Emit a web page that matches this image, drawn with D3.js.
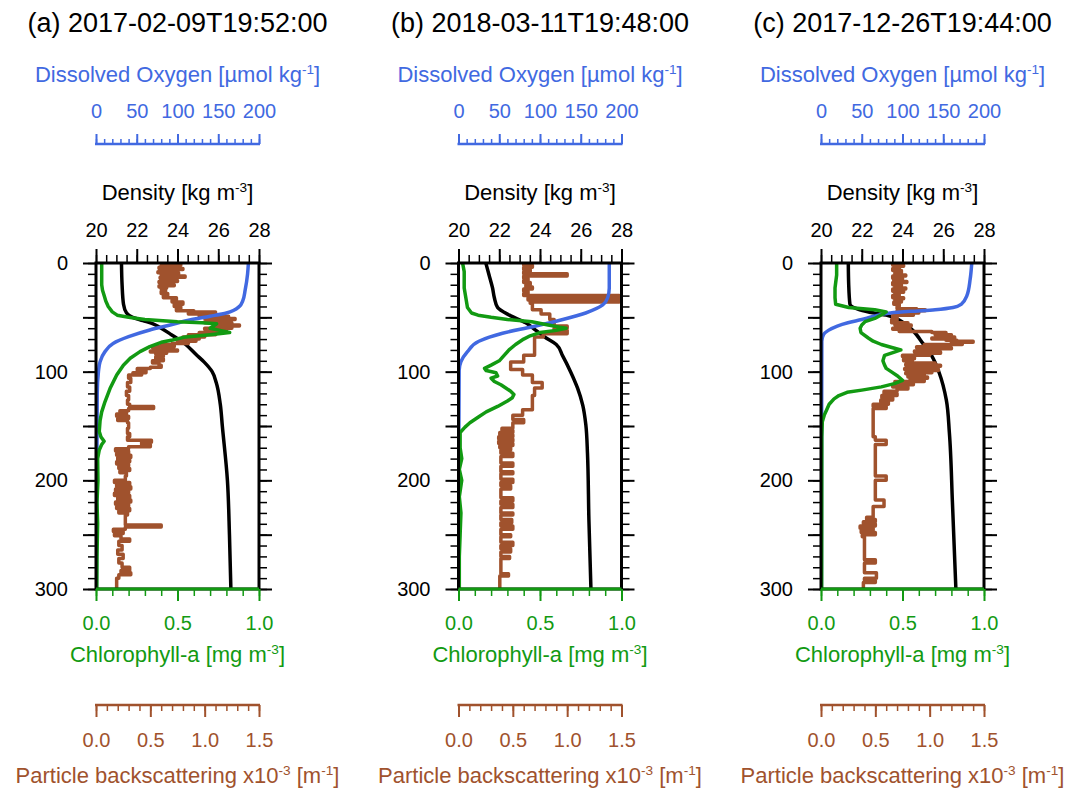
<!DOCTYPE html>
<html>
<head>
<meta charset="utf-8">
<script src="https://cdn.jsdelivr.net/npm/d3@7"></script>
<style>
  body { margin: 0; background: #fff; }
  svg { display: block; font-family: "Liberation Sans", Arial, sans-serif; }
</style>
</head>
<body>
<svg id="chart" width="1073" height="791"></svg>
<script>
// ── Data: profiles as [depth (m), value] ───────────────────────────
const panelTitles = ["(a) 2017-02-09T19:52:00", "(b) 2018-03-11T19:48:00", "(c) 2017-12-26T19:44:00"];

const depthTicks   = [0, 100, 200, 300];
const densityTicks = [20, 22, 24, 26, 28];
const oxygenTicks  = [0, 50, 100, 150, 200];
const chlTicks     = [0, 0.5, 1.0];
const bbpTicks     = [0, 0.5, 1.0, 1.5];

const densityA = [[0,21.25],[20,21.28],[38,21.35],[46,21.5],[50,21.8],[53,22.3],[56,22.8],[60,23.2],[66,23.7],[75,24.4],[84,24.9],[91,25.3],[100,25.7],[110,25.9],[130,26.1],[150,26.2],[200,26.45],[250,26.55],[300,26.62]];
const densityB = [[0,21.34],[11,21.5],[23,21.67],[32,21.76],[41,21.92],[48,22.5],[55,23.3],[62,23.8],[69,24.3],[75,24.8],[85,25.1],[100,25.5],[115,25.84],[131,26.1],[149,26.25],[175,26.33],[236,26.4],[300,26.5]];
const densityC = [[0,21.34],[20,21.36],[38,21.42],[43,21.9],[46,22.6],[48,23.2],[52,23.8],[57,24.2],[62,24.5],[74,25.0],[86,25.45],[101,25.8],[126,26.15],[156,26.3],[220,26.45],[300,26.62]];

const oxygenA = [[0,187],[10,186],[25,183],[35,180],[40,176],[46,160],[49,140],[52.5,115],[57,91],[61.6,66],[67.8,40],[74,21],[81.6,11],[90.8,5],[100,3],[120,1.5],[200,1],[300,0.5]];
const oxygenB = [[0,185],[23,185],[32,183],[38.6,177],[46,156],[52,128],[58.6,91],[64.6,54],[72,25],[81.6,11],[90.8,3],[99,0.8],[150,0.5],[300,0.3]];
const oxygenC = [[0,185],[15,183],[30,179],[38,172],[41,162],[43,140],[44.5,110],[46,85],[49,65],[52,50],[55,33],[58,20],[62,9],[66,3],[72,1],[300,0.5]];

const chlA = [[0,0.035],[10,0.035],[20,0.035],[25,0.04],[30,0.05],[35,0.06],[40,0.075],[45,0.1],[48,0.13],[50,0.2],[52,0.3],[54,0.5],[55,0.65],[56,0.74],[58,0.72],[60,0.7],[62,0.76],[64,0.82],[66,0.7],[68,0.55],[70.8,0.47],[73,0.4],[77,0.33],[81.6,0.27],[87.7,0.21],[94,0.168],[103,0.127],[115.5,0.086],[127.7,0.055],[137,0.035],[145,0.025],[155,0.02],[160,0.03],[164,0.05],[167,0.035],[172,0.02],[180,0.01],[200,0.012],[220,0.006],[240,0.01],[270,0.006],[300,0.005]];
const chlB = [[0,0.025],[8,0.035],[23,0.035],[32,0.045],[41,0.055],[46,0.08],[48,0.12],[50,0.2],[52,0.3],[54,0.45],[57,0.55],[59,0.62],[60,0.66],[62,0.6],[64,0.5],[67,0.44],[70,0.4],[75,0.35],[80,0.31],[85,0.28],[90,0.25],[94,0.2],[97,0.16],[99,0.17],[101,0.23],[104,0.24],[106,0.2],[109,0.22],[112,0.26],[115,0.29],[118,0.32],[121,0.34],[124,0.33],[127,0.3],[132,0.24],[137,0.17],[142,0.12],[147,0.07],[151,0.04],[156,0.01],[170,0.01],[180,0.02],[190,0.005],[200,0.02],[215,0.005],[230,0.015],[250,0.01],[270,0.005],[300,0.005]];
const chlC = [[0,0.096],[11,0.096],[23,0.086],[32,0.086],[38,0.09],[41,0.17],[43,0.33],[45,0.4],[47,0.38],[51,0.33],[54,0.27],[57,0.25],[60,0.24],[64,0.245],[69,0.29],[72,0.32],[75,0.37],[78,0.44],[80,0.49],[82,0.45],[85,0.39],[90,0.38],[94,0.39],[97,0.4],[100,0.43],[104,0.47],[108,0.5],[111,0.45],[114,0.37],[117,0.25],[119,0.16],[122,0.11],[125,0.08],[130,0.05],[135,0.035],[140,0.02],[146,0.008],[160,0.005],[300,0.004]];

// particle backscattering (x10^-3 m^-1), drawn as steps: value v from depth d on
const bbpA = [[0,0.62],[1,0.78],[2,0.6],[3,0.74],[4,0.58],[5,0.8],[6,0.63],[7,0.71],[8,0.57],[9,0.76],[10,0.6],[11,0.68],[12,0.82],[13,0.59],[14,0.7],[15,0.6],[16,0.75],[17,0.58],[18,0.66],[19,0.62],[20,0.72],[21,0.58],[22,0.65],[23,0.6],
  [24,0.64],[26,0.6],[28,0.66],[30,0.62],[32,0.74],[34,0.7],[36,0.8],[38,0.72],[40,0.78],[42,0.74],[44,0.9],[45,1.1],[46,0.85],[47,1.05],
  [48,0.95],[49,1.22],[50,1.0],[51,1.28],[52,1.05],[53,1.15],[54,1.0],[55,1.25],[56,1.1],[57,1.32],[58,1.12],[59,1.25],[60,1.0],[61,1.2],[62,1.05],[63,1.15],[64,0.95],[65,1.1],
  [66,0.85],[67,1.0],[68,0.8],[69,0.95],[70,0.78],[71,0.92],[72,0.75],[73,0.85],[74,0.7],[75,0.6],[76,0.72],[77,0.52],[78,0.68],[79,0.55],[80,0.75],[81,0.5],[82,0.65],[83,0.55],[84,0.62],
  [86,0.55],[88,0.62],[90,0.52],[92,0.58],[94,0.6],[96,0.5],[97,0.38],[99,0.46],[101,0.34],[102,0.42],[103,0.3],[106,0.32],[110,0.29],[114,0.31],[118,0.28],[122,0.3],[126,0.29],
  [130,0.31],[132,0.53],[134,0.3],[136,0.22],[137,0.28],[139,0.19],[141,0.3],[143,0.2],[145,0.29],[147,0.3],[152,0.29],[157,0.31],[160,0.29],[163,0.51],[165,0.42],[167,0.5],[169,0.3],
  [171,0.18],[173,0.3],[175,0.19],[177,0.32],[179,0.2],[181,0.31],[183,0.19],[185,0.3],[187,0.21],[189,0.31],[191,0.22],[193,0.28],[196,0.27],
  [200,0.17],[202,0.31],[204,0.19],[206,0.32],[208,0.18],[210,0.3],[212,0.17],[214,0.31],[216,0.2],[218,0.32],[220,0.18],[222,0.3],[224,0.19],[226,0.31],[228,0.21],[230,0.29],[232,0.27],
  [235,0.27],[238,0.27],[241,0.6],[243,0.27],[245,0.16],[247,0.25],[249,0.17],[251,0.23],[254,0.31],[256,0.21],[260,0.24],[264,0.2],[268,0.25],[272,0.21],[276,0.24],
  [280,0.31],[283,0.23],[285,0.32],[287,0.21],[290,0.19],[300,0.19]];
const bbpB = [[0,0.6],[2,0.68],[4,0.6],[6,0.66],[8,0.6],[10,1.0],[12,0.6],[14,0.64],[16,0.6],[18,0.66],[20,0.62],[22,0.68],[24,0.6],[26,0.64],[28,0.6],[30,1.48],[32,0.64],[34,1.48],[36,0.66],
  [37,0.68],[43,0.76],[47,0.84],[52,0.88],[58,1.0],[60,0.88],[62,1.0],[65,0.78],[68,0.7],[85,0.6],[91,0.48],[98,0.59],[103,0.68],[110,0.77],[115,0.7],[122,0.68],[135,0.59],[140,0.5],
  [144,0.6],[147,0.5],[152,0.4],[154,0.5],[156,0.38],[158,0.5],[160,0.37],[162,0.5],[164,0.37],[166,0.5],[168,0.38],[170,0.48],[172,0.39],
  [175,0.5],[178,0.39],[184,0.5],[187,0.39],[192,0.5],[194,0.39],[199,0.5],[202,0.39],[205,0.48],[208,0.39],[216,0.5],[219,0.39],[222,0.5],[225,0.39],[230,0.5],[232,0.39],
  [236,0.49],[239,0.39],[242,0.5],[245,0.39],[250,0.48],[252,0.39],[257,0.5],[260,0.39],[263,0.48],[266,0.39],[270,0.47],[272,0.39],[280,0.39],[286,0.46],[288,0.38],[300,0.38]];
const bbpC = [[0,0.72],[1,0.66],[2,0.76],[3,0.68],[4,0.72],[5,0.66],[7,0.74],[9,0.68],[11,0.78],[12,0.66],[14,0.75],[15,0.67],[17,0.79],[18,0.66],[20,0.74],[21,0.68],[23,0.78],[24,0.66],[26,0.76],[27,0.68],[29,0.72],[30,0.66],[32,0.76],[33,0.68],[35,0.74],[36,0.67],[38,0.72],
  [40,0.7],[42,0.88],[43,0.96],[44,0.7],[45,0.9],[46,0.66],[47,0.85],[48,0.66],[50,0.7],[52,0.65],[53,0.7],[54,0.65],[55,0.8],[56,0.68],[57,0.83],[58,0.7],[59,0.78],[60,0.66],[61,0.82],[62,0.72],
  [63,1.02],[64,1.15],[65,1.05],[66,1.2],[67,1.08],[68,1.23],[69,1.02],[70,1.15],[71,1.25],[72,1.4],[73,1.2],[74,1.3],
  [75,0.95],[76,1.15],[77,0.88],[78,1.2],[79,0.9],[80,1.05],[81,0.86],[82,1.1],[83,0.9],[84,1.0],[85,0.75],[86,0.86],[88,0.76],[90,0.84],
  [91,0.8],[92,1.05],[93,0.78],[94,1.1],[95,0.82],[96,1.0],[97,0.77],[98,1.08],[99,0.8],[100,1.02],[101,0.78],[102,0.95],[103,0.8],[105,0.98],[106,0.82],[108,0.95],
  [109,0.68],[110,0.85],[112,0.66],[114,0.8],[116,0.7],[118,0.58],[120,0.7],[122,0.56],[124,0.66],[126,0.55],[128,0.62],[130,0.48],[132,0.6],
  [134,0.48],[150,0.48],[160,0.5],[163,0.6],[167,0.5],[196,0.6],[200,0.5],[218,0.58],[224,0.48],[234,0.42],[236,0.5],[238,0.39],[240,0.5],[242,0.36],[244,0.48],[246,0.37],[248,0.5],[250,0.38],
  [252,0.4],[273,0.5],[276,0.4],[285,0.51],[290,0.4],[292,0.5],[294,0.39],[300,0.39]];

const panels = [
  { title: panelTitles[0], density: densityA, oxygen: oxygenA, chl: chlA, bbp: bbpA },
  { title: panelTitles[1], density: densityB, oxygen: oxygenB, chl: chlB, bbp: bbpB },
  { title: panelTitles[2], density: densityC, oxygen: oxygenC, chl: chlC, bbp: bbpC }
];

// ── Layout ──────────────────────────────────────────────────────────
const BLUE = "#4169e1", GREEN = "#129a12", BROWN = "#a0522d";
const panelLeft = [96, 458.5, 821], PW = 163;
const yTop = 263, yBot = 589;
const oxyY = 144, bbpY = 705;
const TICK_FS = 20, LABEL_FS = 22, TITLE_FS = 27;
const LW = 3.5;

const svg = d3.select("#chart");
const defs = svg.append("defs");

// draw an axis with separate minor + major tick groups
function drawAxis(orient, scale, pos, major, minor, majorLen, minorLen, pad, color, fmt) {
    const make = { top: d3.axisTop, bottom: d3.axisBottom, left: d3.axisLeft, right: d3.axisRight }[orient];
    const tr = (orient === "top" || orient === "bottom") ? `translate(0,${pos})` : `translate(${pos},0)`;
    const gMin = svg.append("g").attr("transform", tr)
        .call(make(scale).tickValues(minor).tickSize(minorLen).tickFormat(""));
    gMin.select(".domain").remove();
    gMin.selectAll("line").attr("stroke", color).attr("stroke-width", 1.5);
    const gMaj = svg.append("g").attr("transform", tr)
        .call(make(scale).tickValues(major).tickSize(majorLen).tickPadding(pad).tickFormat(fmt || ""));
    gMaj.select(".domain").remove();
    gMaj.attr("font-size", TICK_FS).attr("font-family", null);
    gMaj.selectAll("line").attr("stroke", color).attr("stroke-width", 2);
    gMaj.selectAll("text").attr("fill", color);
}

// centered label; parts starting with "^" are superscripts
function label(x, y, parts, color, size) {
    const t = svg.append("text").attr("x", x).attr("y", y)
        .attr("text-anchor", "middle").attr("fill", color).attr("font-size", size);
    let up = 0;
    parts.forEach(s => {
        const sup = s.startsWith("^");
        const shift = sup ? -size * 0.38 : 0;
        t.append("tspan").attr("dy", shift - up)
            .attr("font-size", sup ? size * 0.62 : size)
            .text(sup ? s.slice(1) : s);
        up = shift;
    });
}

const y = d3.scaleLinear([0, 300], [yTop, yBot]);

panels.forEach((p, i) => {
    const x0 = panelLeft[i], x1 = x0 + PW, cx = x0 + PW / 2;
    const xDen = d3.scaleLinear([20, 28], [x0, x1]);
    const xOxy = d3.scaleLinear([0, 200], [x0, x1]);
    const xChl = d3.scaleLinear([0, 1], [x0, x1]);
    const xBbp = d3.scaleLinear([0, 1.5], [x0, x1]);

    // clip
    defs.append("clipPath").attr("id", `clip${i}`)
        .append("rect").attr("x", x0).attr("y", yTop).attr("width", PW).attr("height", yBot - yTop);

    const g = svg.append("g").attr("clip-path", `url(#clip${i})`);
    const line = xs => d3.line().x(d => xs(d[1])).y(d => y(d[0]));

    g.append("path").datum(p.density).attr("d", line(xDen).curve(d3.curveMonotoneY))
        .attr("fill", "none").attr("stroke", "#000").attr("stroke-width", LW);
    g.append("path").datum(p.bbp).attr("d", line(xBbp).curve(d3.curveStepBefore))
        .attr("fill", "none").attr("stroke", BROWN).attr("stroke-width", LW).attr("stroke-linejoin", "round");
    g.append("path").datum(p.oxygen).attr("d", line(xOxy).curve(d3.curveMonotoneY))
        .attr("fill", "none").attr("stroke", BLUE).attr("stroke-width", LW);
    g.append("path").datum(p.chl).attr("d", line(xChl))
        .attr("fill", "none").attr("stroke", GREEN).attr("stroke-width", LW).attr("stroke-linejoin", "round");

    // frame
    svg.append("rect").attr("x", x0).attr("y", yTop).attr("width", PW).attr("height", yBot - yTop)
        .attr("fill", "none").attr("stroke", "#000").attr("stroke-width", 3);

    // depth axes
    drawAxis("left", y, x0, d3.range(0, 301, 50), d3.range(0, 301, 10), 13, 8, 15, "#000",
        d => depthTicks.includes(d) ? d : "");
    drawAxis("right", y, x1, d3.range(0, 301, 50), d3.range(0, 301, 10), 13, 8, 0, "#000", null);

    // density (top of frame)
    drawAxis("top", xDen, yTop, densityTicks, d3.range(20, 28.01, 0.5), 14, 8, 12, "#000", d3.format("d"));
    label(cx, 200, ["Density [kg m", "^-3", "]"], "#000", LABEL_FS);

    // oxygen (floating, above)
    svg.append("line").attr("x1", x0 - 1).attr("x2", x1 + 1).attr("y1", oxyY).attr("y2", oxyY)
        .attr("stroke", BLUE).attr("stroke-width", 2.5);
    drawAxis("top", xOxy, oxyY, oxygenTicks, d3.range(0, 201, 10), 10, 5, 16, BLUE, d3.format("d"));
    label(cx, 82, ["Dissolved Oxygen [\u00b5mol kg", "^-1", "]"], BLUE, LABEL_FS);

    // chlorophyll (bottom of frame)
    svg.append("line").attr("x1", x0).attr("x2", x1).attr("y1", yBot).attr("y2", yBot)
        .attr("stroke", GREEN).attr("stroke-width", 3);
    drawAxis("bottom", xChl, yBot, chlTicks, d3.range(0, 1.001, 0.1), 12, 7, 15, GREEN, d3.format(".1f"));
    label(cx, 662, ["Chlorophyll-a [mg m", "^-3", "]"], GREEN, LABEL_FS);

    // backscattering (floating, below)
    svg.append("line").attr("x1", x0 - 1).attr("x2", x1 + 1).attr("y1", bbpY).attr("y2", bbpY)
        .attr("stroke", BROWN).attr("stroke-width", 2.5);
    drawAxis("bottom", xBbp, bbpY, bbpTicks, d3.range(0, 1.501, 0.1), 12, 6, 16, BROWN, d3.format(".1f"));
    label(cx, 783, ["Particle backscattering x10", "^-3", " [m", "^-1", "]"], BROWN, LABEL_FS);

    // panel title
    label(cx, 32, [p.title], "#000", TITLE_FS);
});
</script>
</body>
</html>
